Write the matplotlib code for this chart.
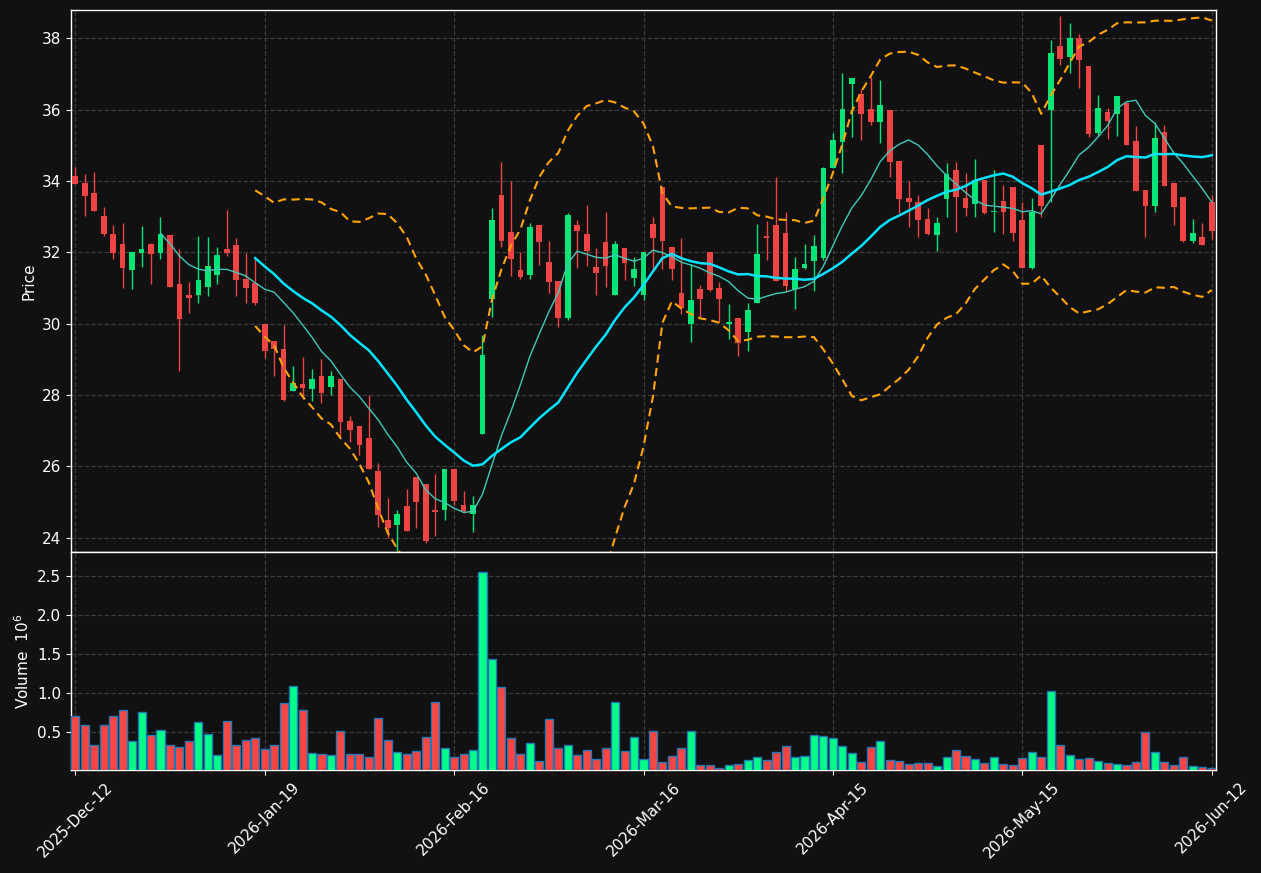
import numpy as np
import pandas as pd
import matplotlib
matplotlib.use("Agg")
import matplotlib.pyplot as plt

# ---------------- data ----------------
opens = [34.13, 33.95, 33.66, 33.01, 32.51, 32.23, 31.49, 31.99, 32.23, 31.99,
         32.48, 31.11, 30.80, 30.81, 31.03, 31.37, 32.09, 32.21, 31.25, 31.13,
         29.99, 29.51, 29.28, 28.12, 28.31, 28.16, 28.53, 28.22, 28.45, 27.27,
         27.13, 26.79, 25.86, 24.51, 24.36, 24.88, 25.70, 25.50, 24.77, 24.77,
         25.94, 24.93, 24.67, 26.91, 30.69, 33.60, 32.56, 31.50, 31.36, 32.77,
         31.72, 31.19, 30.16, 32.77, 32.51, 31.59, 32.28, 30.81, 32.12, 31.29,
         30.81, 32.80, 33.83, 32.15, 30.85, 30.00, 30.97, 32.00, 31.01, 29.99,
         30.15, 29.77, 30.58, 32.43, 32.77, 32.54, 30.96, 31.56, 31.76, 31.83,
         34.37, 35.10, 36.72, 36.44, 36.02, 35.66, 35.99, 34.55, 33.53, 33.41,
         32.93, 32.49, 33.50, 34.30, 33.52, 33.34, 34.03, 33.12, 33.45, 33.83,
         32.90, 31.57, 35.01, 36.00, 37.78, 37.46, 38.01, 37.21, 35.35, 35.93,
         35.88, 36.18, 35.11, 33.74, 33.31, 35.37, 33.94, 33.54, 32.32, 32.43,
         33.42]
highs = [34.39, 34.18, 34.24, 33.26, 32.76, 32.81, 32.01, 32.73, 32.25, 33.00,
         32.48, 32.08, 31.18, 32.47, 32.44, 32.14, 33.18, 32.39, 31.99, 31.85,
         29.99, 29.51, 29.97, 28.81, 29.06, 28.74, 29.00, 28.66, 28.45, 27.40,
         27.13, 27.99, 26.10, 25.10, 24.79, 25.36, 25.70, 25.50, 25.80, 25.94,
         25.94, 25.32, 25.16, 29.69, 33.23, 34.52, 33.99, 32.00, 32.83, 32.77,
         32.33, 31.19, 33.09, 32.90, 33.32, 32.12, 33.13, 32.33, 32.12, 31.87,
         32.00, 33.00, 33.83, 32.15, 32.39, 31.67, 31.09, 32.00, 31.17, 30.54,
         30.15, 30.58, 32.79, 32.89, 34.10, 33.12, 31.87, 32.24, 32.49, 34.39,
         35.35, 37.02, 36.89, 36.57, 36.91, 36.82, 35.99, 34.55, 33.99, 33.61,
         33.23, 33.00, 34.50, 34.52, 34.21, 34.62, 34.03, 34.30, 33.88, 33.83,
         33.42, 33.51, 35.01, 37.94, 38.61, 38.42, 38.13, 37.21, 36.40, 36.03,
         36.38, 36.18, 35.53, 33.74, 35.64, 35.56, 33.94, 33.56, 32.92, 32.81,
         33.61]
lows = [33.92, 33.03, 33.16, 32.46, 31.80, 31.01, 30.98, 31.58, 31.12, 31.80,
        31.03, 28.66, 30.29, 30.59, 30.78, 31.10, 31.89, 30.77, 30.59, 30.51,
        29.05, 28.53, 27.82, 28.12, 27.88, 27.82, 27.78, 28.01, 26.83, 26.69,
        26.32, 25.93, 24.31, 24.00, 23.64, 24.18, 24.28, 23.85, 24.05, 24.50,
        24.92, 24.68, 24.15, 26.91, 30.18, 32.15, 31.34, 31.26, 31.26, 31.65,
        30.87, 29.91, 30.11, 31.57, 31.62, 30.81, 31.03, 30.81, 31.21, 31.06,
        30.65, 31.54, 31.54, 31.21, 30.28, 29.49, 30.18, 30.91, 30.04, 29.56,
        29.08, 29.22, 30.58, 31.77, 31.19, 30.91, 30.42, 31.52, 30.91, 31.78,
        34.37, 34.23, 35.22, 35.14, 35.56, 35.05, 34.10, 33.10, 32.70, 32.42,
        32.48, 32.03, 33.00, 32.56, 33.03, 33.00, 33.08, 32.56, 32.50, 32.33,
        31.57, 31.54, 33.00, 33.42, 37.24, 37.02, 36.59, 35.23, 35.25, 35.17,
        35.25, 35.02, 33.73, 32.42, 33.12, 33.87, 32.76, 32.28, 32.25, 32.21,
        32.36]
closes = [33.92, 33.57, 33.16, 32.51, 31.98, 31.57, 32.01, 32.09, 31.96, 32.51,
          31.03, 30.14, 30.73, 31.22, 31.61, 31.92, 31.99, 31.23, 31.00, 30.58,
          29.24, 29.29, 27.86, 28.34, 28.20, 28.45, 28.05, 28.53, 27.24, 27.01,
          26.61, 25.93, 24.65, 24.28, 24.66, 24.18, 24.99, 23.90, 24.72, 25.94,
          25.02, 24.76, 24.91, 29.12, 32.90, 32.32, 31.82, 31.31, 32.71, 32.29,
          31.16, 30.16, 33.04, 32.61, 32.04, 31.43, 31.62, 32.23, 31.70, 31.52,
          32.00, 32.41, 32.32, 31.54, 30.44, 30.66, 30.70, 30.95, 30.70, 30.04,
          29.45, 30.39, 31.94, 32.41, 31.19, 31.05, 31.53, 31.66, 32.18, 34.36,
          35.15, 36.02, 36.89, 35.87, 35.64, 36.12, 34.54, 33.50, 33.40, 32.91,
          32.51, 32.83, 34.18, 33.54, 33.25, 34.02, 33.11, 33.16, 33.14, 32.55,
          31.57, 33.13, 33.31, 37.59, 37.43, 38.01, 37.40, 35.31, 36.04, 35.69,
          36.38, 35.02, 33.73, 33.31, 35.20, 33.87, 33.28, 32.31, 32.54, 32.21,
          32.61]
volumes_m = [0.706, 0.590, 0.333, 0.590, 0.706, 0.783, 0.384, 0.758, 0.461, 0.526,
             0.333, 0.307, 0.384, 0.629, 0.474, 0.204, 0.642, 0.333, 0.397, 0.423,
             0.281, 0.333, 0.873, 1.092, 0.783, 0.230, 0.217, 0.204, 0.513, 0.217,
             0.217, 0.178, 0.680, 0.397, 0.242, 0.217, 0.255, 0.436, 0.886, 0.294,
             0.178, 0.217, 0.268, 2.547, 1.427, 1.067, 0.418, 0.217, 0.358, 0.127,
             0.667, 0.294, 0.333, 0.204, 0.268, 0.152, 0.294, 0.886, 0.255, 0.436,
             0.152, 0.513, 0.114, 0.191, 0.294, 0.513, 0.075, 0.075, 0.036, 0.075,
             0.088, 0.139, 0.178, 0.139, 0.242, 0.320, 0.178, 0.191, 0.461, 0.448,
             0.423, 0.320, 0.230, 0.114, 0.307, 0.384, 0.139, 0.127, 0.088, 0.101,
             0.101, 0.058, 0.178, 0.268, 0.191, 0.152, 0.101, 0.178, 0.088, 0.075,
             0.165, 0.242, 0.178, 1.028, 0.333, 0.204, 0.152, 0.165, 0.127, 0.101,
             0.088, 0.075, 0.114, 0.491, 0.242, 0.114, 0.075, 0.178, 0.062, 0.049,
             0.036]
tick_labels = ["2025-Dec-12", "2026-Jan-19", "2026-Feb-16", "2026-Mar-16",
               "2026-Apr-15", "2026-May-15", "2026-Jun-12"]
tick_every = 20
short_window = 10
long_window = 20
band_k = 2.0

# ---------------- style ----------------
BG = "#111111"
UP = "#00e676"
DOWN = "#ef4444"
VUP = "#00ff88"
VDOWN = "#ff4444"
VEDGE = "#1f77b4"
GRID = "#3a3a3a"

o = np.array(opens); h = np.array(highs); l = np.array(lows); c = np.array(closes)
v = np.array(volumes_m) * 1e6
n = len(c)
x = np.arange(n)
up = c >= o

s = pd.Series(c)
sma_s = s.rolling(short_window).mean()
sma_l = s.rolling(long_window).mean()
std_l = s.rolling(long_window).std(ddof=0)
upper = sma_l + band_k * std_l
lower = sma_l - band_k * std_l

fig = plt.figure(figsize=(12.61, 8.73), dpi=100, facecolor=BG)
left, right = 71 / 1261, 1216 / 1261
ax = fig.add_axes([left, 1 - 552 / 873, right - left, (552 - 10) / 873])
axv = fig.add_axes([left, 1 - 770 / 873, right - left, (770 - 552) / 873], sharex=ax)

for a in (ax, axv):
    a.set_facecolor(BG)
    for sp in a.spines.values():
        sp.set_color("white")
        sp.set_linewidth(1.0)
    a.tick_params(colors="white", labelsize=11)
    a.grid(True, color=GRID, linestyle="--", linewidth=0.9)
    a.set_axisbelow(True)

# candles
colors = np.where(up, UP, DOWN)
ax.vlines(x, l, h, colors=colors, linewidth=1.0, zorder=2)
body_bottom = np.minimum(o, c)
body_h = np.maximum(np.abs(c - o), 0.04)
ax.bar(x, body_h, bottom=body_bottom, width=0.6, color=colors, linewidth=0, zorder=3)

# moving averages and bands
ax.plot(x, sma_s, color="#40c8b8", linewidth=1.0, zorder=4)
ax.plot(x, sma_l, color="#00e5ff", linewidth=1.8, zorder=4)
ax.plot(x, upper, color="#ffa500", linewidth=1.5, linestyle=(0, (4, 2.5)), zorder=4)
ax.plot(x, lower, color="#ffa500", linewidth=1.5, linestyle=(0, (4, 2.5)), zorder=4)

ax.set_ylim(23.6, 38.79)
ax.set_xlim(-0.45, n - 1 + 0.45)
ax.set_yticks(np.arange(24, 39, 2))
ax.set_ylabel("Price", color="white", fontsize=11)
plt.setp(ax.get_xticklabels(), visible=False)

# volume
vcolors = np.where(up, VUP, VDOWN)
axv.bar(x, v, width=0.85, color=vcolors, edgecolor=VEDGE, linewidth=1.0, zorder=3)
axv.set_ylim(0.3 * v.min(), 1.1 * v.max())
axv.set_yticks(np.arange(0.5e6, 2.6e6, 0.5e6))
axv.set_yticklabels([f"{t/1e6:.1f}" for t in np.arange(0.5e6, 2.6e6, 0.5e6)])
axv.set_ylabel("Volume  $10^{6}$", color="white", fontsize=11)

ticks = np.arange(0, n, tick_every)
axv.set_xticks(ticks)
axv.set_xticklabels(tick_labels, rotation=45, ha="center", fontsize=11, color="white")
ax.tick_params(axis="x", length=3.5)

fig.savefig("out.png", dpi=100, facecolor=BG)
